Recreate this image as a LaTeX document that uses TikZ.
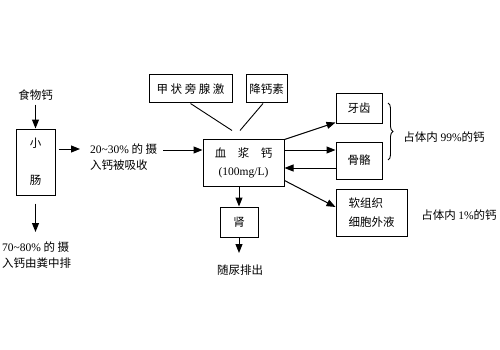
\documentclass[tikz,border=0pt]{standalone}
\usepackage{fontspec}
\setmainfont{Liberation Serif}
\newfontfamily\cjk{Noto Sans CJK SC}
\usetikzlibrary{arrows.meta,decorations.pathreplacing}

\begin{document}
\begin{tikzpicture}[x=1pt, y=-1pt, >={Triangle[length=9pt,width=7pt]}]

% Styles
\tikzset{
  box/.style={draw, line width=1pt, inner sep=0pt, align=center, font=\cjk\fontsize{11.5}{16}\selectfont},
  txt/.style={font=\cjk\fontsize{11.5}{16}\selectfont, inner sep=2pt},
  flow/.style={->, line width=1pt},
  link/.style={line width=0.9pt}
}

\useasboundingbox (0,0) rectangle (500,350);

% Boxes
\node[box, minimum width=39, minimum height=66] (gut) at (35.5,162) {小\\[21pt]肠};
\node[box, minimum width=83, minimum height=28] (pth) at (190.5,89) {甲 状 旁 腺 激};
\node[box, minimum width=41, minimum height=28] (ct) at (266.5,89) {降钙素};
\node[box, minimum width=81, minimum height=47] (plasma) at (243.5,162.5) {血\hspace{1em}浆\hspace{1em}钙\\[2pt]{\rmfamily (100mg/L)}};
\node[box, minimum width=38, minimum height=30] (kidney) at (239,222) {肾};
\node[box, minimum width=46, minimum height=29] (teeth) at (359,108.5) {牙齿};
\node[box, minimum width=46, minimum height=37] (bone) at (359,160.5) {骨骼};
\node[box, minimum width=71, minimum height=47, align=left] (soft) at (371.5,212.5) {软组织\\[3pt]细胞外液};

% Texts
\node[txt] (food) at (35.5,95) {食物钙};
\node[txt, anchor=west, align=left] (absorb) at (88,157) {{\rmfamily 20\textasciitilde30\%} 的 摄\\入钙被吸收};
\node[txt, anchor=west, align=left] (excrete) at (0,255.5) {{\rmfamily 70\textasciitilde80\%} 的 摄\\入钙由粪中排};
\node[txt] (urine) at (240,270) {随尿排出};
\node[txt] (most) at (444,137) {占体内 {\rmfamily 99\%}的钙};
\node[txt] (rest) at (459,215) {占体内 {\rmfamily 1\%}的钙};

% Free ends
\coordinate (absorbin) at (80,149);
\coordinate (absorbout) at (163,150);
\coordinate (gutout) at (35.5,232);
\coordinate (urineout) at (239,253);

% Intake
\draw[flow, shorten <=2pt] (food) -- (gut);
\draw[flow] ([xshift=3pt,yshift=13pt]gut.east) -- (absorbin);
\draw[flow, shorten <=8pt] (gut.south) -- (gutout);
\draw[flow] (absorbout) -- ([yshift=12.5pt]plasma.west);

% Hormones
\draw[link] (pth.south) -- ([xshift=-11.5pt,yshift=8pt]plasma.north);
\draw[link] ([xshift=-3.5pt]ct.south) -- ([xshift=-3.5pt,yshift=8pt]plasma.north);

% Exchange with tissues
\draw[flow] ([yshift=-1pt]plasma.north east) -- ([yshift=1pt]teeth.south west);
\draw[flow] ([yshift=12.5pt]plasma.east) -- ([yshift=10.5pt]bone.west);
\draw[flow] ([yshift=-7.5pt]bone.west) -- ([yshift=-5.5pt]plasma.east);
\draw[flow] ([yshift=6pt]plasma.south east) -- ([yshift=5.5pt]soft.west);

% Kidney
\draw[flow] ([xshift=-4.5pt]plasma.south) -- (kidney);
\draw[flow] (kidney) -- (urineout);

% Brace
\draw[decorate, decoration={brace, amplitude=5pt}, line width=0.9pt] (388,103) -- (388,160);

\end{tikzpicture}
\end{document}
